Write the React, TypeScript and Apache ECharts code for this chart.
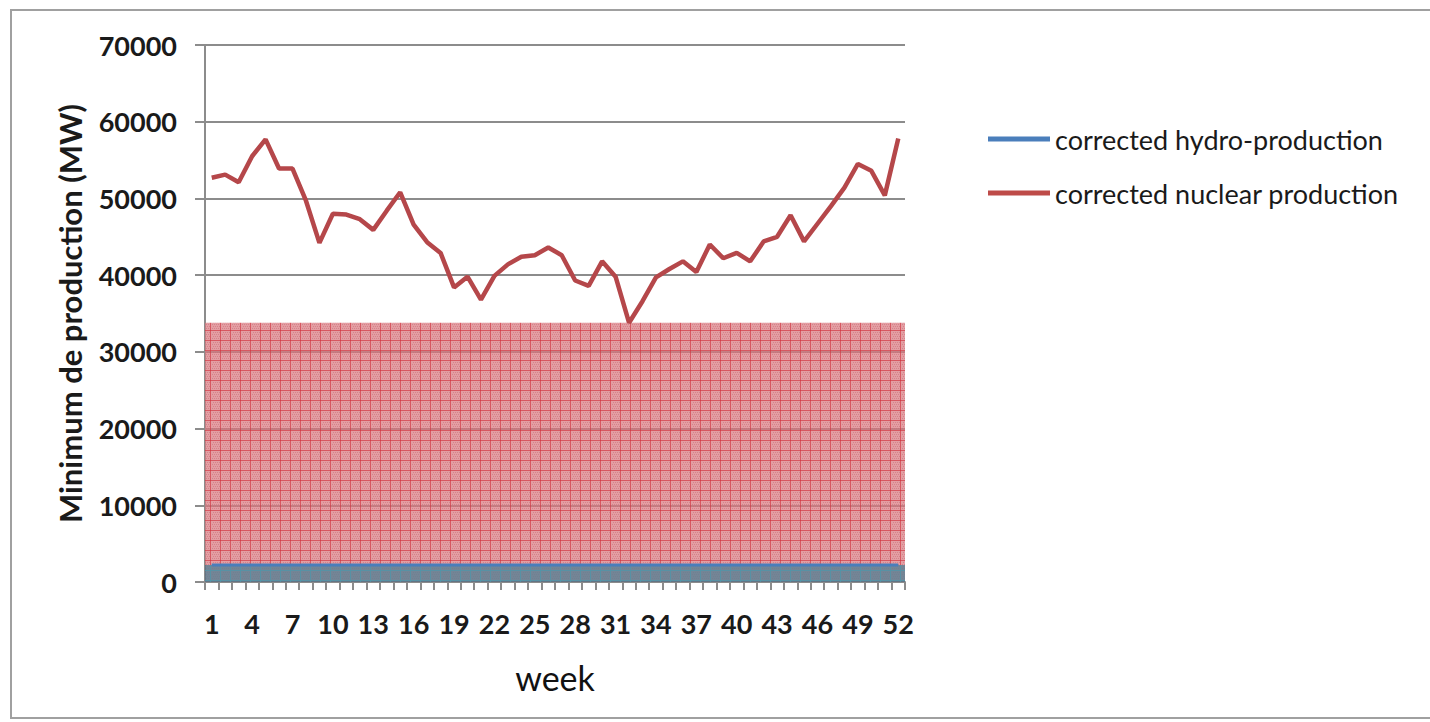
import React, { useEffect, useRef } from "react";
import * as echarts from "echarts";

const weeks: string[] = Array.from({ length: 52 }, (_, i) => String(i + 1));

const hydro: number[] = [
  2200, 2200, 2200, 2200, 2200, 2200, 2200, 2200, 2200, 2200, 2200, 2200, 2200,
  2200, 2200, 2200, 2200, 2200, 2200, 2200, 2200, 2200, 2200, 2200, 2200, 2200,
  2200, 2200, 2200, 2200, 2200, 2200, 2200, 2200, 2200, 2200, 2200, 2200, 2200,
  2200, 2200, 2200, 2200, 2200, 2200, 2200, 2200, 2200, 2200, 2200, 2200, 2200,
];

const nuclear: number[] = [
  52700, 53100, 52100, 55500, 57700, 53900, 53900, 49700, 44200, 48000, 47900, 47300, 45900,
  48400, 50800, 46600, 44300, 42900, 38400, 39800, 36800, 39900, 41400, 42400, 42600, 43600,
  42600, 39300, 38600, 41800, 39800, 33800, 36600, 39700, 40800, 41800, 40400, 44000, 42200,
  42900, 41800, 44400, 45000, 47800, 44400, 46700, 49000, 51400, 54500, 53600, 50400, 57800,
];

const yTicks = { min: 0, max: 70000, interval: 10000 };
const seriesNames = ["corrected hydro-production", "corrected nuclear production"];

function makePattern(bg: string, line: string, dot: string) {
  const c = document.createElement("canvas");
  c.width = 10;
  c.height = 10;
  const ctx = c.getContext("2d")!;
  ctx.fillStyle = bg;
  ctx.fillRect(0, 0, 10, 10);
  ctx.fillStyle = dot;
  for (let y = 2; y < 10; y += 2) {
    for (let x = (y / 2) % 2 === 0 ? 2 : 3; x < 10; x += 2) ctx.fillRect(x, y, 1, 1);
  }
  ctx.fillStyle = line;
  ctx.fillRect(0, 0, 10, 1);
  ctx.fillRect(0, 0, 1, 10);
  return { image: c.toDataURL(), repeat: "repeat", imageWidth: 10, imageHeight: 10 } as any;
}

export default function App() {
  const ref = useRef<HTMLDivElement>(null);
  useEffect(() => {
    if (!ref.current) return;
    const chart = echarts.init(ref.current, undefined, { renderer: "svg" });
    const hydroLevel = Math.max(...hydro);
    const nuclearMin = Math.min(...nuclear);
    const redPattern = makePattern(
      "rgba(218,120,128,0.72)",
      "rgba(208,50,62,0.65)",
      "rgba(196,108,116,0.5)"
    );
    const bluePattern = makePattern(
      "rgba(92,112,132,0.85)",
      "rgba(80,150,170,0.75)",
      "rgba(110,125,140,0.5)"
    );
    const font = "Lato, 'Open Sans', sans-serif";
    chart.setOption({
      animation: false,
      backgroundColor: "#ffffff",
      grid: { left: 205, right: 525, top: 45, bottom: 140 },
      graphic: [
        {
          type: "rect",
          shape: { x: 11, y: 10, width: 1430, height: 708 },
          style: { fill: "none", stroke: "#a0a0a0", lineWidth: 2 },
          silent: true,
        },
      ],
      legend: {
        orient: "vertical",
        left: 983,
        top: 118,
        icon: "rect",
        itemWidth: 62,
        itemHeight: 5,
        itemGap: 22,
        data: seriesNames,
        textStyle: { fontFamily: font, fontSize: 27, lineHeight: 32, color: "#1a1a1a" },
      },
      xAxis: {
        type: "category",
        data: weeks,
        boundaryGap: true,
        name: "week",
        nameLocation: "middle",
        nameGap: 78,
        nameTextStyle: { fontFamily: font, fontSize: 34, color: "#111" },
        axisLine: { lineStyle: { color: "#8c8c8c", width: 2 } },
        axisTick: { show: true, interval: 0, length: 8, lineStyle: { color: "#8c8c8c", width: 2 } },
        axisLabel: {
          interval: 2,
          margin: 28,
          fontFamily: font,
          fontWeight: "bold",
          fontSize: 27,
          color: "#1a1a1a",
        },
        splitLine: { show: false },
      },
      yAxis: {
        type: "value",
        min: yTicks.min,
        max: yTicks.max,
        interval: yTicks.interval,
        name: "Minimum de production (MW)",
        nameLocation: "middle",
        nameGap: 120,
        nameTextStyle: { fontFamily: font, fontSize: 31, fontWeight: "bold", color: "#1a1a1a" },
        axisLine: { show: true, lineStyle: { color: "#8c8c8c", width: 2 } },
        axisTick: { show: true, length: 10, lineStyle: { color: "#8c8c8c", width: 2 } },
        axisLabel: {
          margin: 28,
          formatter: (v: number) => String(v),
          fontFamily: font,
          fontWeight: "bold",
          fontSize: 27,
          color: "#1a1a1a",
        },
        splitLine: { lineStyle: { color: "#8c8c8c", width: 2 } },
      },
      series: [
        {
          name: seriesNames[0],
          type: "line",
          data: hydro,
          showSymbol: false,
          lineStyle: { color: "#4a7ebb", width: 3 },
          itemStyle: { color: "#4a7ebb" },
          z: 2,
          markArea: {
            silent: true,
            data: [
              [{ yAxis: 0, itemStyle: { color: bluePattern } }, { yAxis: hydroLevel }],
              [{ yAxis: hydroLevel, itemStyle: { color: redPattern } }, { yAxis: nuclearMin }],
            ],
          },
        },
        {
          name: seriesNames[1],
          type: "line",
          data: nuclear,
          showSymbol: false,
          lineStyle: { color: "#b5474a", width: 4.5 },
          itemStyle: { color: "#be4b48" },
          z: 3,
        },
      ],
    });
    return () => chart.dispose();
  }, []);
  return (
    <div
      ref={ref}
      style={{ position: "absolute", left: 0, top: 0, width: 1430, height: 722 }}
    />
  );
}
